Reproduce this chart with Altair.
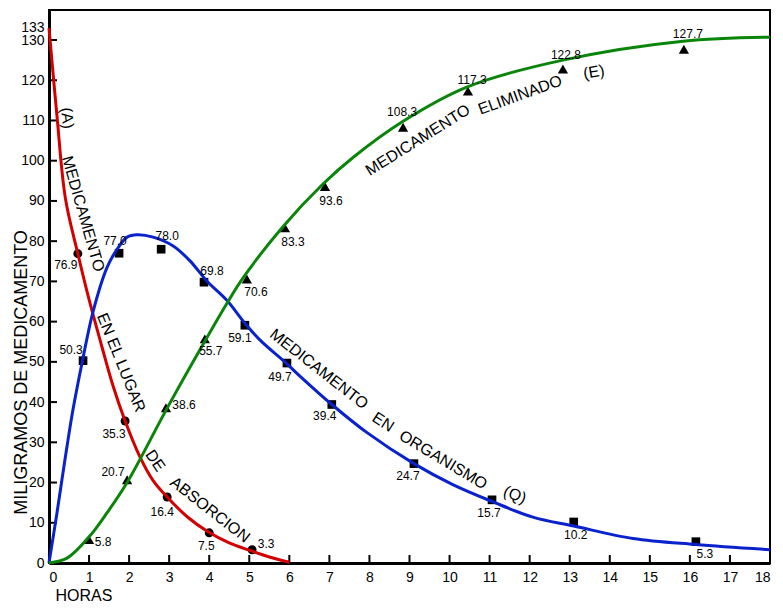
import altair as alt
import pandas as pd

# ---------------- data ----------------
# (A) Medicamento en el lugar de absorcion - curve
A_CURVE_T = [0, 0.2, 0.41, 0.72, 1.0, 1.3, 1.6, 1.9, 2.27, 2.6, 2.95, 3.45, 3.95, 4.5, 5.05, 5.5, 6.0]
A_CURVE_V = [133, 111, 90.6, 76.9, 65.5, 54.5, 44.0, 35.3, 26.4, 20.5, 16.4, 11.5, 7.9, 5.0, 3.0, 1.5, 0.2]
# (Q) Medicamento en organismo - curve
Q_CURVE_T = [0, 0.2, 0.32, 0.45, 0.57, 0.7, 0.85, 1.1, 1.45, 1.72, 1.95, 2.2, 2.6, 3.1, 3.52,
             3.94, 4.44, 4.89, 5.27, 5.94, 6.27, 7.06, 7.94, 9.11, 10.08, 11.06, 12.08, 13.1,
             14.58, 16.15, 18]
Q_CURVE_V = [0, 12.5, 20.5, 29, 36.5, 43.5, 51, 62.5, 73.5, 78.3, 81, 81.6, 81, 78.8, 75.1,
             70.1, 65.3, 59.6, 55.4, 49.5, 46.4, 39.4, 32.4, 24.7, 19.5, 15.3, 11.4, 9.2,
             6.1, 4.6, 3.3]
# (E) Medicamento eliminado - curve
E_CURVE_T = [0, 0.45, 1.0, 1.45, 1.95, 2.95, 3.89, 4.44, 4.84, 5.84, 6.84, 7.59, 8.84, 10.43, 12.83, 15.83, 18]
E_CURVE_V = [0, 1.2, 6.5, 12.5, 20, 38.5, 55.1, 64.5, 70.8, 83.6, 94.2, 100.8, 109.8, 118.3, 125, 129.7, 130.7]

# measured points (value labels)
A_PT_T = [0.72, 1.9, 2.95, 4.0, 5.07]
A_PT_V = [76.9, 35.3, 16.4, 7.5, 3.3]
Q_PT_T = [0.85, 1.75, 2.8, 3.87, 4.89, 5.94, 7.06, 9.11, 11.06, 13.1, 16.15]
Q_PT_V = [50.3, 77.0, 78.0, 69.8, 59.1, 49.7, 39.4, 24.7, 15.7, 10.2, 5.3]
E_PT_T = [1.0, 1.95, 2.92, 3.89, 4.94, 5.89, 6.89, 8.84, 10.46, 12.83, 15.85]
E_PT_V = [5.8, 20.7, 38.6, 55.7, 70.6, 83.3, 93.6, 108.3, 117.3, 122.8, 127.7]

# axis labels
Y_LABELS = [0, 10, 20, 30, 40, 50, 60, 70, 80, 90, 100, 110, 120, 130, 133]
Y_TICKS = [10, 20, 30, 40, 50, 60, 70, 80, 90, 100, 110, 120, 130]
X_LABELS = list(range(0, 19))
X_TICKS = list(range(1, 18))

# curve annotations (text, hour, mg)
ANN_TEXT = ["(A)", "MEDICAMENTO", "EN  EL  LUGAR", "DE", "ABSORCION",
            "MEDICAMENTO", "EN", "ORGANISMO", "(Q)",
            "MEDICAMENTO", "ELIMINADO", "(E)"]
ANN_T = [0.45, 0.85, 1.8, 2.65, 4.02, 6.74, 8.34, 9.84, 11.63, 9.21, 11.76, 13.6]
ANN_V = [110.6, 86.8, 49.8, 25.4, 13.2, 48.2, 35.0, 25.6, 16.9, 105.1, 116.3, 122.0]

# ---------------- styles ----------------
ANN_ANGLE = [84, 74, 68, 55, 38, 38, 33, 31, 22, 328, 340, 350]
COLORS = {"A": "#d20000", "Q": "#0a22cc", "E": "#0a850a"}
SHAPES = {"A": "circle", "Q": "square", "E": "triangle-up"}
SIZES = {"A": 80, "Q": 75, "E": 105}
LABEL_OFFSETS = {
    "A": [(-12, 11), (-11, 13), (-5, 15), (-3, 13), (14, -6)],
    "Q": [(-12, -11), (-4, -12), (6, -13), (8, -11), (-5, 13), (-7, 14), (-7, 12),
          (-6, 12), (-3, 13), (2, 13), (9, 12)],
    "E": [(14, 2), (-14, -8), (18, -3), (6, 12), (9, 13), (8, 14), (6, 15),
          (-1, -15), (4, -11), (3, -14), (4, -15)],
}
W, H = 721, 553
YMAX = 137.46
FONT = "Liberation Sans"
NARROW = "Liberation Sans Narrow, Liberation Sans"

curves = pd.concat([
    pd.DataFrame({"t": A_CURVE_T, "v": A_CURVE_V, "s": "A"}),
    pd.DataFrame({"t": Q_CURVE_T, "v": Q_CURVE_V, "s": "Q"}),
    pd.DataFrame({"t": E_CURVE_T, "v": E_CURVE_V, "s": "E"}),
], ignore_index=True)

pts = pd.concat([
    pd.DataFrame({"t": A_PT_T, "v": A_PT_V, "s": "A", "i": range(len(A_PT_T))}),
    pd.DataFrame({"t": Q_PT_T, "v": Q_PT_V, "s": "Q", "i": range(len(Q_PT_T))}),
    pd.DataFrame({"t": E_PT_T, "v": E_PT_V, "s": "E", "i": range(len(E_PT_T))}),
], ignore_index=True)

xscale = alt.Scale(domain=[0, 18], nice=False, zero=True)
yscale = alt.Scale(domain=[0, YMAX], nice=False, zero=True)
xaxis = alt.Axis(values=X_LABELS, ticks=False, tickSize=0, grid=False, labelFontSize=14,
                 labelPadding=7, labelColor="black", labelFont=FONT, domainWidth=3,
                 domainColor="black", title="HORAS", titleFont=FONT, titleFontSize=16,
                 titleFontWeight="normal", titleColor="black", titleAnchor="start",
                 titleAlign="left", titleX=6, titleY=24, titleBaseline="top",
                 labelOverlap=False, labelFlush=True)
yaxis = alt.Axis(values=Y_LABELS, ticks=False, tickSize=0, grid=False, labelFontSize=14,
                 labelPadding=5, labelColor="black", labelFont=FONT, domainWidth=3,
                 domainColor="black", title="MILIGRAMOS  DE  MEDICAMENTO", titleFont=FONT,
                 titleFontSize=18, titleFontWeight="normal", titleColor="black",
                 titleAngle=270, titleX=-28, titleY=362, titleAlign="center",
                 titleBaseline="middle", labelOverlap=False, labelFlush=False)


def X(field="t"):
    return alt.X(f"{field}:Q", scale=xscale, axis=xaxis)


def Y(field="v"):
    return alt.Y(f"{field}:Q", scale=yscale, axis=yaxis)


layers = []

# inside tick marks
ytick_df = pd.DataFrame({"v": Y_TICKS})
xtick_df = pd.DataFrame({"t": X_TICKS})
layers.append(alt.Chart(ytick_df).mark_rule(color="black", strokeWidth=2).encode(
    y=Y(), x=alt.value(0), x2=alt.value(8)))
layers.append(alt.Chart(xtick_df).mark_rule(color="black", strokeWidth=2).encode(
    x=X(), y=alt.value(H), y2=alt.value(H - 8)))

# markers
for s in ["A", "Q", "E"]:
    layers.append(alt.Chart(pts).transform_filter(alt.datum.s == s).mark_point(
        shape=SHAPES[s], filled=True, color="black", opacity=1, size=SIZES[s], strokeWidth=0
    ).encode(x=X(), y=Y()))

# curves
for s in ["A", "Q", "E"]:
    layers.append(alt.Chart(curves).transform_filter(alt.datum.s == s).mark_line(
        color=COLORS[s], strokeWidth=3, interpolate="catmull-rom"
    ).encode(x=X(), y=Y(), order="t:Q"))

# value labels
for s in ["A", "Q", "E"]:
    for i, (dx, dy) in enumerate(LABEL_OFFSETS[s]):
        layers.append(alt.Chart(pts).transform_filter(
            (alt.datum.s == s) & (alt.datum.i == i)
        ).mark_text(font=NARROW, fontSize=12, color="black", dx=dx, dy=dy,
                    align="center", baseline="middle").encode(
            x=X(), y=Y(), text=alt.Text("v:Q", format=".1f")))

# curve annotations
ann = pd.DataFrame({"txt": ANN_TEXT, "t": ANN_T, "v": ANN_V, "k": range(len(ANN_TEXT))})
for k, ang in enumerate(ANN_ANGLE):
    layers.append(alt.Chart(ann).transform_filter(alt.datum.k == k).mark_text(
        font=FONT, fontSize=16, color="black", angle=ang, align="center",
        baseline="middle").encode(x=X(), y=Y(), text="txt:N"))

chart = alt.layer(*layers).properties(
    width=W, height=H,
    autosize=alt.AutoSizeParams(type="none"),
    padding={"left": 41, "top": 2, "right": 4, "bottom": 40},
    background="white",
).configure_view(stroke="black", strokeWidth=2)

chart.save("out.html", embed_options={"renderer": "svg", "actions": False})
